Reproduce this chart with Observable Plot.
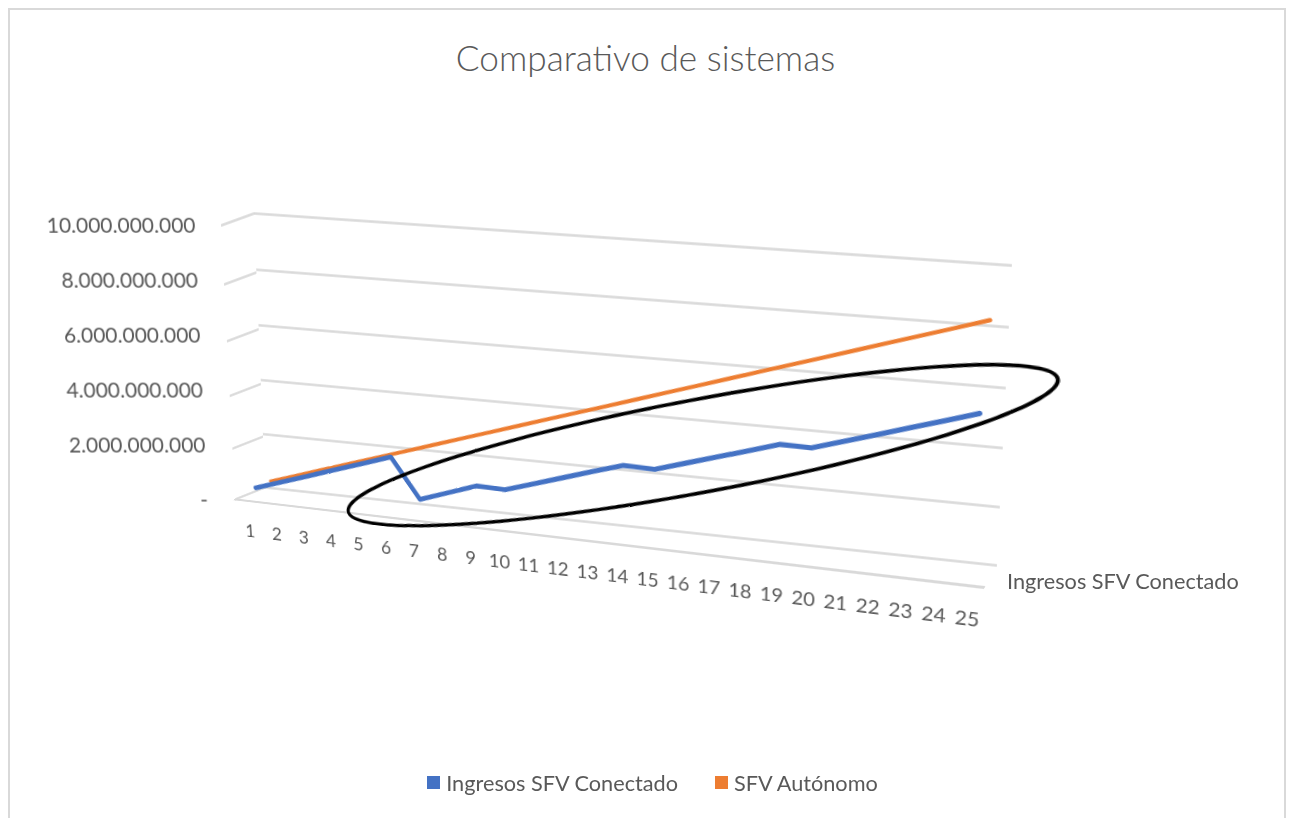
<!DOCTYPE html>
<html>
<head>
<meta charset="utf-8">
<script src="https://cdn.jsdelivr.net/npm/d3@7"></script>
<script src="https://cdn.jsdelivr.net/npm/@observablehq/plot@0.6"></script>
<style>
html, body { margin: 0; padding: 0; background: #fff; }
#page { position: relative; width: 1291px; height: 818px; overflow: hidden; font-family: Lato, "Open Sans", sans-serif; color: #595959; }
#frame { position: absolute; left: 8px; top: 8px; width: 1278px; height: 860px; border: 2px solid #d9d9d9; box-sizing: border-box; }
#title { position: absolute; top: 37px; left: 0; width: 1291px; text-align: center; font-size: 35.2px; line-height: 40px; font-weight: 300; color: #595959; }
#serieslabel { position: absolute; left: 1007px; top: 568px; font-size: 21.7px; line-height: 26px; color: #595959; white-space: nowrap; }
#legend { position: absolute; left: 0; top: 766px; width: 1291px; padding-left: 14px; box-sizing: border-box; display: flex; justify-content: center; }
#legend span { margin-right: 37px !important; font-size: 21.7px; color: #595959; }
#legend span:last-child { margin-right: 0 !important; }
#legend svg { margin-right: 6px !important; }
</style>
</head>
<body>
<div id="page">
  <div id="frame"></div>
  <div id="title">Comparativo de sistemas</div>
</div>
<script>
// ---------------- DATA ----------------
const years = [1, 2, 3, 4, 5, 6, 7, 8, 9, 10, 11, 12, 13, 14, 15, 16, 17, 18, 19, 20, 21, 22, 23, 24, 25];
const conectado = [0.38e9, 0.72e9, 1.06e9, 1.40e9, 1.74e9, 2.08e9, 0.64e9, 1.00e9, 1.36e9, 1.34e9,
                   1.67e9, 2.00e9, 2.33e9, 2.65e9, 2.62e9, 2.94e9, 3.26e9, 3.58e9, 3.91e9, 3.90e9,
                   4.23e9, 4.56e9, 4.89e9, 5.22e9, 5.56e9];
const autonomo = [0.40e9, 0.73e9, 1.06e9, 1.39e9, 1.72e9, 2.05e9, 2.38e9, 2.71e9, 3.04e9, 3.37e9,
                  3.70e9, 4.03e9, 4.36e9, 4.69e9, 5.02e9, 5.35e9, 5.68e9, 6.01e9, 6.34e9, 6.67e9,
                  7.00e9, 7.33e9, 7.66e9, 7.99e9, 8.32e9];
const yTicks = [0, 2e9, 4e9, 6e9, 8e9, 10e9];
const seriesNames = ["Ingresos SFV Conectado", "SFV Autónomo"];
const seriesColors = ["#4472C4", "#ED7D31"];
// hand-drawn annotation ellipse, in data units of the "Conectado" row (year, value)
const noteCenter = [15.8, 3.38e9];
const noteAxisA = [11.4, 3.50e9];
const noteAxisB = [0.302, -1.54e9];

// ---------------- 3D LAYOUT (projected box corners) ----------------
const BACK  = {tl: [254, 213], tr: [1012, 265], br: [997, 565], bl: [265, 487]};
const FRONT = {tl: [221, 225], tr: [1000, 279], br: [985, 587], bl: [235, 499]};
const lerpP = (a, b, t) => [a[0] + (b[0] - a[0]) * t, a[1] + (b[1] - a[1]) * t];
const atDepth = t => ({tl: lerpP(BACK.tl, FRONT.tl, t), tr: lerpP(BACK.tr, FRONT.tr, t),
                       br: lerpP(BACK.br, FRONT.br, t), bl: lerpP(BACK.bl, FRONT.bl, t)});

function solve(A, b) {
  const n = b.length;
  const M = A.map((r, i) => [...r, b[i]]);
  for (let c = 0; c < n; c++) {
    let p = c;
    for (let r = c + 1; r < n; r++) if (Math.abs(M[r][c]) > Math.abs(M[p][c])) p = r;
    [M[c], M[p]] = [M[p], M[c]];
    for (let r = 0; r < n; r++) {
      if (r !== c) {
        const f = M[r][c] / M[c][c];
        for (let k = c; k <= n; k++) M[r][k] -= f * M[c][k];
      }
    }
  }
  return M.map((r, i) => r[n] / r[i]);
}
function homography(src, dst) {
  const A = [], b = [];
  for (let i = 0; i < 4; i++) {
    const [x, y] = src[i], [u, v] = dst[i];
    A.push([x, y, 1, 0, 0, 0, -u * x, -u * y]); b.push(u);
    A.push([0, 0, 0, x, y, 1, -v * x, -v * y]); b.push(v);
  }
  return solve(A, b);
}
const page = document.getElementById("page");
function place(el, W, H, q) {
  const h = homography([[0, 0], [W, 0], [W, H], [0, H]], [q.tl, q.tr, q.br, q.bl]);
  el.style.position = "absolute";
  el.style.left = "0px";
  el.style.top = "0px";
  el.style.transformOrigin = "0 0";
  el.style.transform = `matrix3d(${h[0]},${h[3]},0,${h[6]},${h[1]},${h[4]},0,${h[7]},0,0,1,0,${h[2]},${h[5]},0,1)`;
  page.appendChild(el);
}
const baseStyle = {overflow: "visible", maxWidth: "none", background: "transparent", fontFamily: "Lato, 'Open Sans', sans-serif", color: "#595959"};
function plane(W, H, xDomain, yDomain, marks, extra = {}) {
  return Plot.plot({
    width: W, height: H, margin: 0,
    x: {domain: xDomain, axis: null, ...(extra.x || {})},
    y: {domain: yDomain, axis: null},
    style: {...baseStyle, ...(extra.style || {})},
    marks
  });
}
const GRID = {stroke: "#d9d9d9", strokeWidth: 2.5};
const cat = [0.5, 25.5];

// back wall gridlines
place(plane(750, 290, cat, [0, 10e9], [Plot.ruleY(yTicks, GRID)]), 750, 290, BACK);
// left side wall gridlines (front -> back)
place(plane(32, 290, [0, 1], [0, 10e9], [Plot.ruleY(yTicks, GRID)]), 32, 290,
      {tl: FRONT.tl, tr: BACK.tl, br: BACK.bl, bl: FRONT.bl});
// floor front edge
place(plane(750, 20, cat, [0, 1], [Plot.ruleY([0], GRID)]), 750, 20,
      {tl: BACK.bl, tr: BACK.br, br: FRONT.br, bl: FRONT.bl});

const rows = years.map((y, i) => ({year: y, conectado: conectado[i], autonomo: autonomo[i]}));

// SFV Autónomo row (back)
place(plane(750, 290, cat, [0, 10e9], [
  Plot.line(rows, {x: "year", y: "autonomo", stroke: seriesColors[1], strokeWidth: 4})
]), 750, 290, atDepth(0.25));

// Ingresos SFV Conectado row (front) + annotation ellipse
const ellipse = d3.range(0, 361, 3).map(deg => {
  const t = deg * Math.PI / 180;
  return {x: noteCenter[0] + noteAxisA[0] * Math.cos(t) + noteAxisB[0] * Math.sin(t),
          y: noteCenter[1] + noteAxisA[1] * Math.cos(t) + noteAxisB[1] * Math.sin(t)};
});
place(plane(750, 290, cat, [0, 10e9], [
  Plot.line(rows, {x: "year", y: "conectado", stroke: seriesColors[0], strokeWidth: 5}),
  Plot.line(ellipse, {x: "x", y: "y", stroke: "#000", strokeWidth: 3.5, curve: "catmull-rom"})
]), 750, 290, atDepth(0.75));

// category axis along the front edge
place(plane(750, 290, cat, [0, 10e9], [], {
  x: {axis: "bottom", ticks: years, tickFormat: d => String(d), tickSize: 0, tickPadding: 26, label: null},
  style: {fontSize: "19px"}
}), 750, 290, FRONT);

// value axis (labels follow the slanted front-left edge)
const yAxis = Plot.plot({
  width: 230, height: 818, marginLeft: 210, marginRight: 20, marginTop: 226, marginBottom: 318,
  x: {axis: null, domain: [0, 1]},
  y: {domain: [0, 10e9], ticks: yTicks, tickSize: 0, tickPadding: 15, label: null,
      tickFormat: d => d === 0 ? "-" : d3.format(",")(d).replace(/,/g, ".")},
  style: {...baseStyle, fontSize: "21px"},
  marks: []
});
yAxis.style.position = "absolute"; yAxis.style.left = "0px"; yAxis.style.top = "0px";
yAxis.style.transformOrigin = "195px 226px";
yAxis.style.transform = "skewX(2.6deg)";
page.appendChild(yAxis);

// series (depth) axis label
const sl = document.createElement("div");
sl.id = "serieslabel";
sl.textContent = seriesNames[0];
page.appendChild(sl);

// legend
const lg = document.createElement("div");
lg.id = "legend";
lg.appendChild(Plot.legend({
  color: {type: "ordinal", domain: seriesNames, range: seriesColors},
  swatchSize: 13,
  style: {fontFamily: "Lato, 'Open Sans', sans-serif", fontSize: "21.7px", color: "#595959", background: "transparent"}
}));
page.appendChild(lg);
</script>
</body>
</html>
